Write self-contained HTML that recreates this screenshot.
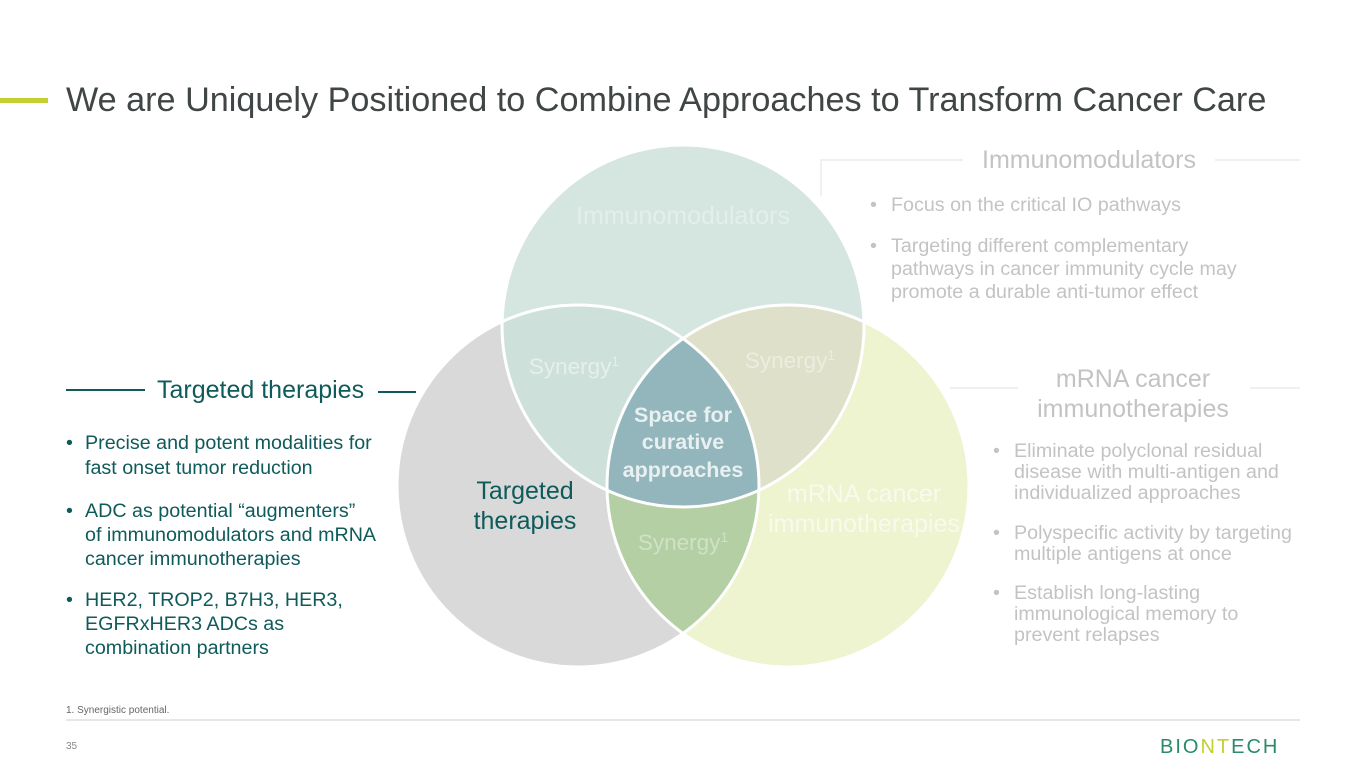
<!DOCTYPE html>
<html><head><meta charset="utf-8"><style>
html,body{margin:0;padding:0;background:#fff;}
svg{display:block;font-family:"Liberation Sans",Arial,sans-serif;}
</style></head><body>
<svg width="1365" height="768" viewBox="0 0 1365 768" xmlns="http://www.w3.org/2000/svg">
<defs>
<clipPath id="cT"><circle cx="683" cy="326" r="181"/></clipPath>
<clipPath id="cL"><circle cx="578" cy="486" r="181"/></clipPath>
<clipPath id="cR"><circle cx="788" cy="486" r="181"/></clipPath>
</defs>
<rect x="0" y="98" width="48" height="5" fill="#c3d02f"/>
<text x="66" y="111" font-size="34.2" fill="#404545">We are Uniquely Positioned to Combine Approaches to Transform Cancer Care</text>

<circle cx="578" cy="486" r="181" fill="#d9d9d9"/>
<circle cx="788" cy="486" r="181" fill="#eef3d0"/>
<circle cx="683" cy="326" r="181" fill="#d5e6e0"/>
<g clip-path="url(#cT)"><circle cx="578" cy="486" r="181" fill="#cde0d9"/><circle cx="788" cy="486" r="181" fill="#dfe0c9"/></g>
<g clip-path="url(#cL)"><circle cx="788" cy="486" r="181" fill="#b4cfa4"/></g>
<g clip-path="url(#cL)"><g clip-path="url(#cR)"><circle cx="683" cy="326" r="181" fill="#93b5bc"/></g></g>
<g fill="none" stroke="#fff" stroke-width="3">
<circle cx="683" cy="326" r="181"/><circle cx="578" cy="486" r="181"/><circle cx="788" cy="486" r="181"/>
</g>
<text x="683" y="224" font-size="25" fill="#e4efeb" text-anchor="middle">Immunomodulators</text>
<text x="574" y="374" font-size="22.5" fill="#e6efec" text-anchor="middle">Synergy<tspan font-size="14" dy="-8">1</tspan></text>
<text x="790" y="368" font-size="22.5" fill="#ecede0" text-anchor="middle">Synergy<tspan font-size="14" dy="-8">1</tspan></text>
<text x="683" y="550" font-size="22.5" fill="#cfe2c6" text-anchor="middle">Synergy<tspan font-size="14" dy="-8">1</tspan></text>
<g font-size="21.5" font-weight="bold" fill="#e8f0f1" text-anchor="middle">
<text x="683" y="422">Space for</text><text x="683" y="449">curative</text><text x="683" y="477">approaches</text></g>
<g font-size="25" fill="#0f5a5a" text-anchor="middle"><text x="525" y="499">Targeted</text><text x="525" y="529">therapies</text></g>
<g font-size="25" fill="#f8faed" text-anchor="middle"><text x="864" y="502">mRNA cancer</text><text x="864" y="532">immunotherapies</text></g>

<g stroke="#ececec" stroke-width="1.5" fill="none">
<polyline points="821,196 821,160 963,160"/><line x1="1215" y1="160" x2="1300" y2="160"/>
<line x1="950" y1="388" x2="1018" y2="388"/><line x1="1250" y1="388" x2="1300" y2="388"/>
</g>
<text x="1089" y="168" font-size="25" fill="#c3c3c3" text-anchor="middle">Immunomodulators</text>
<g font-size="19.7" fill="#c3c3c3">
<text x="870" y="211">•</text><text x="891" y="211">Focus on the critical IO pathways</text>
<text x="870" y="252">•</text><text x="891" y="252">Targeting different complementary</text>
<text x="891" y="275">pathways in cancer immunity cycle may</text>
<text x="891" y="298">promote a durable anti-tumor effect</text>
</g>
<g font-size="25" fill="#c3c3c3" text-anchor="middle"><text x="1133" y="387">mRNA cancer</text><text x="1133" y="417">immunotherapies</text></g>
<g font-size="19.7" fill="#c3c3c3">
<text x="993" y="457">•</text><text x="1014" y="457">Eliminate polyclonal residual</text>
<text x="1014" y="478">disease with multi-antigen and</text>
<text x="1014" y="499">individualized approaches</text>
<text x="993" y="539">•</text><text x="1014" y="539">Polyspecific activity by targeting</text>
<text x="1014" y="560">multiple antigens at once</text>
<text x="993" y="599">•</text><text x="1014" y="599">Establish long-lasting</text>
<text x="1014" y="620">immunological memory to</text>
<text x="1014" y="641">prevent relapses</text>
</g>

<g stroke="#0f5a5a" stroke-width="2"><line x1="66" y1="390" x2="145" y2="390"/><line x1="378" y1="392" x2="416" y2="392"/></g>
<text x="157" y="398" font-size="25" fill="#0f5a5a">Targeted therapies</text>
<g font-size="19.7" fill="#0f5a5a">
<text x="66" y="449">•</text><text x="85" y="449">Precise and potent modalities for</text>
<text x="85" y="474">fast onset tumor reduction</text>
<text x="66" y="517">•</text><text x="85" y="517">ADC as potential “augmenters”</text>
<text x="85" y="541">of immunomodulators and mRNA</text>
<text x="85" y="565">cancer immunotherapies</text>
<text x="66" y="606">•</text><text x="85" y="606">HER2, TROP2, B7H3, HER3,</text>
<text x="85" y="630">EGFRxHER3 ADCs as</text>
<text x="85" y="654">combination partners</text>
</g>

<text x="66" y="713" font-size="10" fill="#666">1. Synergistic potential.</text>
<line x1="66" y1="720" x2="1300" y2="720" stroke="#cfcfcf" stroke-width="1"/>
<text x="66" y="749" font-size="10" fill="#888">35</text>
<text x="1160" y="753" font-size="20" fill="#2a8a6a" letter-spacing="2">BIO<tspan fill="#c3d02f">NT</tspan>ECH</text>
</svg>
</body></html>
